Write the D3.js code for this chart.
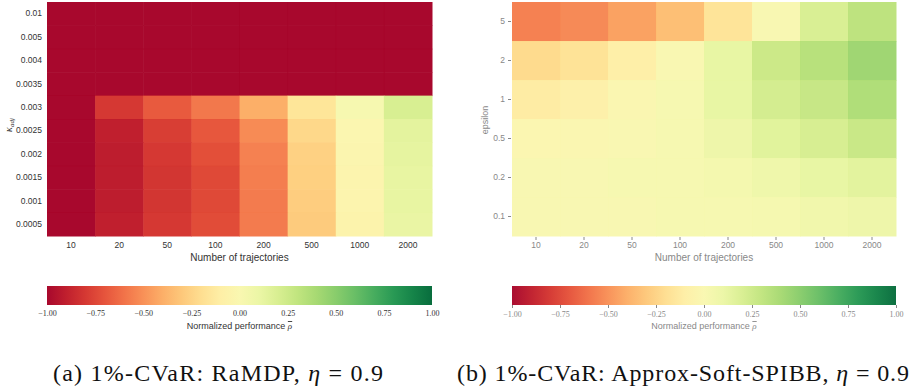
<!DOCTYPE html>
<html>
<head>
<meta charset="utf-8">
<script src="https://cdn.jsdelivr.net/npm/d3@7"></script>
<style>
  body { margin: 0; background: #fff; }
  text { font-family: "Liberation Sans", Arial, sans-serif; }
  .serif { font-family: "Liberation Serif", "DejaVu Serif", serif; }
</style>
</head>
<body>
<div id="chart-area"></div>
<script>
// columns shared by both panels
var trajectories = ["10", "20", "50", "100", "200", "500", "1000", "2000"];

// panel (a): RaMDP, rows = kappa_adj
var kappaRows = ["0.01", "0.005", "0.004", "0.0035", "0.003", "0.0025", "0.002", "0.0015", "0.001", "0.0005"];
var ramdpValues = [
  [-1, -1, -1, -1, -1, -1, -1, -1],
  [-1, -1, -1, -1, -1, -1, -1, -1],
  [-1, -1, -1, -1, -1, -1, -1, -1],
  [-1, -1, -1, -1, -1, -1, -1, -1],
  [-1, -0.80, -0.68, -0.58, -0.40, -0.16, 0.02, 0.20],
  [-1, -0.90, -0.78, -0.69, -0.52, -0.23, -0.03, 0.14],
  [-1, -0.91, -0.80, -0.72, -0.55, -0.26, -0.04, 0.13],
  [-1, -0.91, -0.81, -0.74, -0.56, -0.27, -0.05, 0.12],
  [-1, -0.91, -0.81, -0.74, -0.57, -0.28, -0.05, 0.12],
  [-1, -0.90, -0.80, -0.73, -0.57, -0.29, -0.06, 0.11]
];

// panel (b): Approx-Soft-SPIBB, rows = epsilon
var epsilonRows = ["5", "2", "1", "0.5", "0.2", "0.1"];
var spibbValues = [
  [-0.56, -0.53, -0.45, -0.34, -0.17, 0.01, 0.20, 0.32],
  [-0.22, -0.18, -0.10, -0.01, 0.12, 0.26, 0.34, 0.43],
  [-0.12, -0.09, -0.02, 0.02, 0.12, 0.22, 0.28, 0.37],
  [-0.03, -0.02, 0.00, 0.03, 0.09, 0.16, 0.21, 0.27],
  [0.01, 0.01, 0.02, 0.02, 0.05, 0.08, 0.12, 0.15],
  [0.01, 0.01, 0.01, 0.02, 0.03, 0.04, 0.07, 0.09]
];

var cbarTicks = [-1, -0.75, -0.5, -0.25, 0, 0.25, 0.5, 0.75, 1];

var svg = d3.select("#chart-area")
  .append("svg")
  .attr("width", 910)
  .attr("height", 389);

var color = d3.scaleSequential(d3.interpolateRdYlGn).domain([-1, 1]);

function drawPanel(opt) {
  var g = svg.append("g");
  var x = d3.scaleBand().domain(trajectories).range([opt.x0, opt.x1]);
  var y = d3.scaleBand().domain(opt.rows).range([2, 236]);

  var cells = [];
  opt.values.forEach(function(row, i) {
    row.forEach(function(v, j) {
      cells.push({ r: opt.rows[i], c: trajectories[j], v: v });
    });
  });

  g.append("g").selectAll("rect")
    .data(cells)
    .enter()
    .append("rect")
    .attr("x", function(d) { return x(d.c); })
    .attr("y", function(d) { return y(d.r); })
    .attr("width", x.bandwidth() + 0.5)
    .attr("height", y.bandwidth() + 0.5)
    .attr("fill", function(d) { return color(d.v); })
    .attr("fill-opacity", opt.fade);

  var tickLen = opt.ticks ? 3 : 0;

  var yAxis = g.append("g")
    .attr("transform", "translate(" + (opt.x0 - 1) + ",0)")
    .call(d3.axisLeft(y).tickSize(tickLen).tickPadding(opt.ticks ? 3 : 4));
  yAxis.select(".domain").remove();
  yAxis.selectAll("line").attr("stroke", opt.tc);
  yAxis.selectAll("text").attr("fill", opt.tc).attr("font-size", "8.5px");

  var xAxis = g.append("g")
    .attr("transform", "translate(0,237)")
    .call(d3.axisBottom(x).tickSize(tickLen).tickPadding(opt.ticks ? 2 : 5));
  xAxis.select(".domain").remove();
  xAxis.selectAll("line").attr("stroke", opt.tc);
  xAxis.selectAll("text").attr("fill", opt.tc).attr("font-size", "8.5px");

  g.append("text")
    .attr("x", (opt.x0 + opt.x1) / 2)
    .attr("y", 261)
    .attr("text-anchor", "middle")
    .attr("font-size", "10px")
    .attr("fill", opt.tc)
    .text("Number of trajectories");

  // colorbar
  var gradId = "grad" + opt.id;
  var grad = svg.append("defs").append("linearGradient").attr("id", gradId);
  d3.range(0, 1.0001, 0.05).forEach(function(t) {
    grad.append("stop")
      .attr("offset", (t * 100) + "%")
      .attr("stop-color", color(-1 + 2 * t));
  });
  var cx = d3.scaleLinear().domain([-1, 1]).range([opt.x0, opt.x1]);
  g.append("rect")
    .attr("x", opt.x0)
    .attr("y", 286)
    .attr("width", opt.x1 - opt.x0)
    .attr("height", 19)
    .attr("fill", "url(#" + gradId + ")")
    .attr("fill-opacity", opt.fade);

  var cAxis = g.append("g")
    .attr("transform", "translate(0,305)")
    .call(d3.axisBottom(cx).tickValues(cbarTicks).tickSize(tickLen).tickPadding(opt.ticks ? 3 : 5)
      .tickFormat(function(d) { return d3.format(".2f")(d); }));
  cAxis.select(".domain").remove();
  cAxis.selectAll("line").attr("stroke", opt.tc);
  cAxis.selectAll("text")
    .attr("class", "serif")
    .attr("fill", opt.tc)
    .attr("font-size", "8px");

  var lab = g.append("text")
    .attr("x", (opt.x0 + opt.x1) / 2)
    .attr("y", 329)
    .attr("text-anchor", "middle")
    .attr("font-size", "9px")
    .attr("fill", opt.tc);
  lab.append("tspan").text("Normalized performance ");
  lab.append("tspan").attr("class", "serif").attr("font-style", "italic")
    .attr("text-decoration", "overline").text("ρ");

  // caption
  svg.append("text")
    .attr("class", "serif")
    .attr("x", opt.capX)
    .attr("y", 381)
    .attr("font-size", "24px")
    .attr("fill", "#111")
    .attr("textLength", opt.capW)
    .attr("lengthAdjust", "spacing")
    .html(opt.caption);

  return g;
}

var gA = drawPanel({
  id: "a", x0: 47, x1: 432, rows: kappaRows, values: ramdpValues,
  tc: "#333", ticks: false, fade: 0.97,
  capX: 53, capW: 330,
  caption: '(a) 1%-CVaR: RaMDP, <tspan font-style="italic">η</tspan> = 0.9'
});

var gB = drawPanel({
  id: "b", x0: 512, x1: 896, rows: epsilonRows, values: spibbValues,
  tc: "#888", ticks: true, fade: 0.95,
  capX: 457, capW: 452,
  caption: '(b) 1%-CVaR: Approx-Soft-SPIBB, <tspan font-style="italic">η</tspan> = 0.9'
});

// y-axis titles
var kl = gA.append("text")
  .attr("transform", "translate(12,125) rotate(-90)")
  .attr("text-anchor", "middle")
  .attr("class", "serif")
  .attr("font-style", "italic")
  .attr("font-size", "10px")
  .attr("fill", "#333");
kl.append("tspan").text("κ");
kl.append("tspan").attr("font-size", "7px").attr("dy", 2).text("adj");

gB.append("text")
  .attr("transform", "translate(488,120) rotate(-90)")
  .attr("text-anchor", "middle")
  .attr("font-size", "9px")
  .attr("fill", "#888")
  .text("epsilon");
</script>
</body>
</html>
